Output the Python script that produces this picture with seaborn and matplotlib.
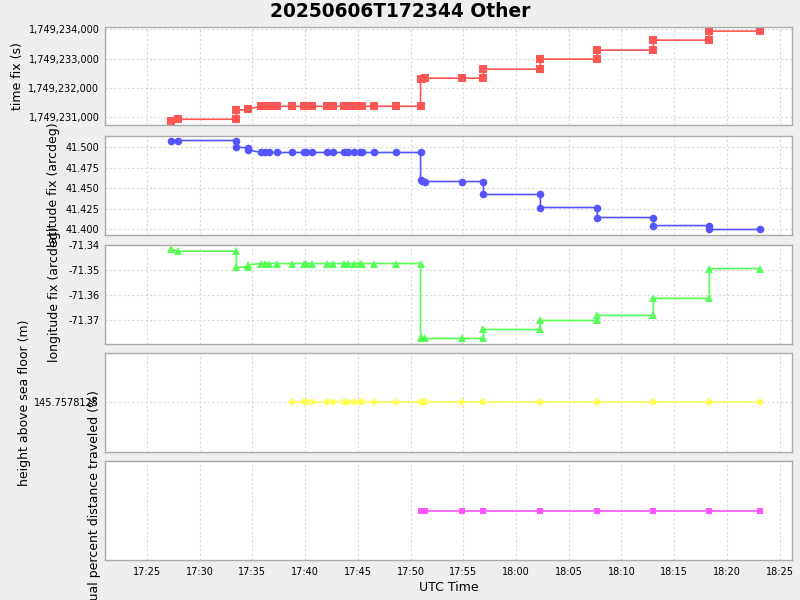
import numpy as np
import pandas as pd
import seaborn as sns
import matplotlib
matplotlib.use("Agg")
import matplotlib.pyplot as plt
import matplotlib.dates as mdates
import matplotlib.ticker as mticker

# fix times (UTC, 2025-06-06)
utc_times = [
    "17:27:18", "17:27:58", "17:33:29", "17:33:29", "17:34:37", "17:34:37",
    "17:35:49", "17:36:12", "17:36:34", "17:37:22", "17:38:47", "17:39:54",
    "17:40:07", "17:40:41", "17:42:05", "17:42:41", "17:43:41", "17:44:02",
    "17:44:40", "17:45:13", "17:45:22", "17:46:31", "17:48:40", "17:50:57",
    "17:50:57", "17:51:03", "17:51:23", "17:54:55", "17:56:55", "17:56:55",
    "18:02:19", "18:02:19", "18:07:43", "18:07:43", "18:13:02", "18:13:02",
    "18:18:21", "18:18:21", "18:23:11",
]
time_fix = [
    1749230874, 1749230932, 1749230932, 1749231239, 1749231265, 1749231280,
    1749231375, 1749231375, 1749231375, 1749231375, 1749231375, 1749231375,
    1749231375, 1749231375, 1749231375, 1749231375, 1749231375, 1749231375,
    1749231375, 1749231375, 1749231375, 1749231375, 1749231375, 1749231375,
    1749232297, 1749232310, 1749232331, 1749232331, 1749232331, 1749232638,
    1749232638, 1749232980, 1749232980, 1749233287, 1749233287, 1749233628,
    1749233628, 1749233935, 1749233935,
]
lat_fix = [
    41.5085, 41.5085, 41.5085, 41.5004, 41.4995, 41.4971,
    41.4939, 41.4939, 41.4939, 41.4939, 41.4939, 41.4939,
    41.4939, 41.4939, 41.4939, 41.4939, 41.4939, 41.4939,
    41.4939, 41.4939, 41.4939, 41.4939, 41.4939, 41.4939,
    41.4598, 41.4592, 41.4585, 41.4585, 41.4585, 41.4427,
    41.4427, 41.4268, 41.4268, 41.4146, 41.4146, 41.4048,
    41.4048, 41.4000, 41.4000,
]
lon_fix = [
    -71.3416, -71.3424, -71.3424, -71.3488, -71.3486, -71.3478,
    -71.3473, -71.3473, -71.3473, -71.3473, -71.3473, -71.3473,
    -71.3473, -71.3473, -71.3473, -71.3473, -71.3473, -71.3473,
    -71.3473, -71.3473, -71.3473, -71.3473, -71.3473, -71.3473,
    -71.3768, -71.3770, -71.3772, -71.3772, -71.3772, -71.3736,
    -71.3736, -71.3700, -71.3700, -71.3680, -71.3680, -71.3612,
    -71.3612, -71.3493, -71.3493,
]
nan = np.nan
height = [
    nan, nan, nan, nan, nan, nan, nan, nan, nan, nan,
    145.7578125, 145.7578125, 145.7578125, 145.7578125, 145.7578125,
    145.7578125, 145.7578125, 145.7578125, 145.7578125, 145.7578125,
    145.7578125, 145.7578125, 145.7578125, 145.7578125, 145.7578125,
    145.7578125, 145.7578125, 145.7578125, 145.7578125, 145.7578125,
    145.7578125, 145.7578125, 145.7578125, 145.7578125, 145.7578125,
    145.7578125, 145.7578125, 145.7578125, 145.7578125,
]
residual = [
    nan, nan, nan, nan, nan, nan, nan, nan, nan, nan, nan, nan,
    nan, nan, nan, nan, nan, nan, nan, nan, nan, nan, nan, nan,
    0.0, 0.0, 0.0, 0.0, 0.0, 0.0, 0.0, 0.0, 0.0, 0.0, 0.0, 0.0,
    0.0, 0.0, 0.0,
]

df = pd.DataFrame({
    "utc": pd.to_datetime(["2025-06-06 " + t for t in utc_times]),
    "time_fix": time_fix,
    "lat_fix": lat_fix,
    "lon_fix": lon_fix,
    "height": height,
    "residual": residual,
})

sns.set_style("white")
plt.rcParams["font.family"] = ["DejaVu Sans"]
plt.rcParams["axes.unicode_minus"] = False
plt.rcParams["text.color"] = "black"
plt.rcParams["axes.labelcolor"] = "black"
plt.rcParams["xtick.labelcolor"] = "black"
plt.rcParams["ytick.labelcolor"] = "black"

fig, axes = plt.subplots(5, 1, figsize=(8, 6), dpi=100, sharex=True)
fig.patch.set_facecolor("#EEEEEE")

# (column, colour, marker, markersize, y label, label x in axes coords)
panels = [
    ("time_fix", "#FF5555", "s", 5.5, "time fix (s)", -0.118),
    ("lat_fix", "#5555FF", "o", 5.5, "latitude fix (arcdeg)", -0.066),
    ("lon_fix", "#55FF55", "^", 6.0, "longitude fix (arcdeg)", -0.064),
    ("height", "#FFFF55", "D", 4.5, "height above sea floor (m)", -0.108),
    ("residual", "#FF55FF", "s", 4.0, "residual percent distance traveled (%)", -0.006),
]
# panel (top, bottom) in pixels
boxes = [(26.5, 125), (135.5, 234.5), (244.5, 343.5), (353, 451.5), (461, 560)]

for ax, (col, color, marker, ms, label, lx), (top, bot) in zip(axes, panels, boxes):
    ax.set_position([105 / 800, 1 - bot / 600, 687 / 800, (bot - top) / 600])
    ax.set_facecolor("white")
    sub = df.dropna(subset=[col])
    sns.lineplot(data=sub, x="utc", y=col, ax=ax, sort=False, estimator=None,
                 color=color, marker=marker, markersize=ms, markeredgewidth=0,
                 markeredgecolor=color, linewidth=1.2)
    ax.set_ylabel(label, fontsize=9)
    ax.yaxis.set_label_coords(lx, 0.5)
    ax.set_xlabel("")
    for s in ax.spines.values():
        s.set_color("#ABABAB")
        s.set_linewidth(1)
    ax.grid(True, color="#D9D9D9", linestyle=(0, (2, 2)), linewidth=0.8)
    ax.tick_params(axis="y", labelsize=7, length=2, color="#888888", pad=2)
    ax.tick_params(axis="x", length=0)

axes[0].set_ylim(1749230737, 1749234092)
axes[0].yaxis.set_major_locator(mticker.MultipleLocator(1000))
axes[0].yaxis.set_major_formatter(mticker.StrMethodFormatter("{x:,.0f}"))

axes[1].set_ylim(41.3939, 41.5146)
axes[1].yaxis.set_major_locator(mticker.MultipleLocator(0.025))
axes[1].yaxis.set_major_formatter(mticker.FormatStrFormatter("%.3f"))

axes[2].set_ylim(-71.3792, -71.3397)
axes[2].yaxis.set_major_locator(mticker.MultipleLocator(0.01))
axes[2].yaxis.set_major_formatter(mticker.FormatStrFormatter("%.2f"))

axes[3].set_ylim(145.7578125 - 0.5, 145.7578125 + 0.5)
axes[3].set_yticks([145.7578125])
axes[3].set_yticklabels(["145.7578125"])

axes[4].set_ylim(-1.0, 1.0)
axes[4].set_yticks([])
axes[4].grid(False, axis="y")

ax = axes[4]
ax.set_xlim(pd.Timestamp("2025-06-06 17:21:01"), pd.Timestamp("2025-06-06 18:26:11"))
ax.xaxis.set_major_locator(mdates.MinuteLocator(byminute=range(0, 60, 5)))
ax.xaxis.set_major_formatter(mdates.DateFormatter("%H:%M"))
ax.tick_params(axis="x", labelsize=7, length=2, color="#888888", pad=3)
ax.set_xlabel("UTC Time", fontsize=9, labelpad=3)

fig.suptitle("20250606T172344 Other", fontsize=13.4, fontweight="bold", y=0.997)

plt.savefig("out.png", dpi=100, facecolor=fig.get_facecolor())
